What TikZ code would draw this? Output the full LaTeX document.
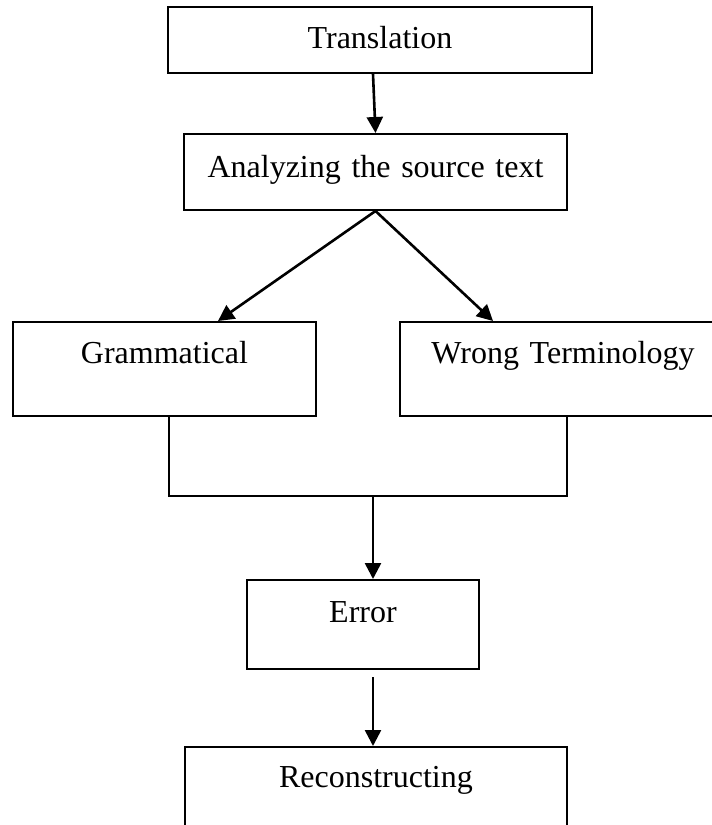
\documentclass[tikz,border=0pt]{standalone}
\usepackage{fontspec}
\setmainfont{Liberation Serif}
\usetikzlibrary{arrows.meta}

\begin{document}
\begin{tikzpicture}[x=1pt,y=-1pt,
  box/.style={draw, line width=2pt, inner sep=0pt, align=center, anchor=base,
    font=\fontsize{32pt}{38pt}\selectfont},
  arr/.style={line width=2.6pt, -{Triangle[length=16pt,width=16pt]}},
  link/.style={line width=2.4pt}]
\clip (0,0) rectangle (712,825);
% boxes
\node[box, text width=424pt, text height=41pt, text depth=25pt] (trans) at (380,48) {Translation};
\node[box, text width=383pt, text height=43pt, text depth=33pt] (ana) at (375.5,177) {Analyzing the source text};
\node[box, text width=303pt, text height=41pt, text depth=53pt] (gram) at (164.5,363) {Grammatical};
\node[box, text width=326pt, text height=41pt, text depth=53pt] (wrong) at (563,363) {Wrong Terminology};
\node[box, text width=232pt, text height=42pt, text depth=47pt] (error) at (363,622) {Error};
\node[box, text width=382pt, text height=40pt, text depth=70pt] (recon) at (376,787) {Reconstructing};
\coordinate (join) at (373,496);
% connectors
\draw[arr] (trans.south -| join) -- (ana.north);
\draw[arr] (ana.south) -- ([xshift=53.5pt]gram.north);
\draw[arr] (ana.south) -- ([xshift=-70pt]wrong.north);
\draw[link] ([xshift=4.5pt]gram.south) |- (join) -| ([xshift=4pt]wrong.south);
\draw[arr] (join) -- (error.north -| join);
\draw[arr] ([yshift=-7pt]error.south -| join) -- (recon.north -| join);
\end{tikzpicture}
\end{document}
